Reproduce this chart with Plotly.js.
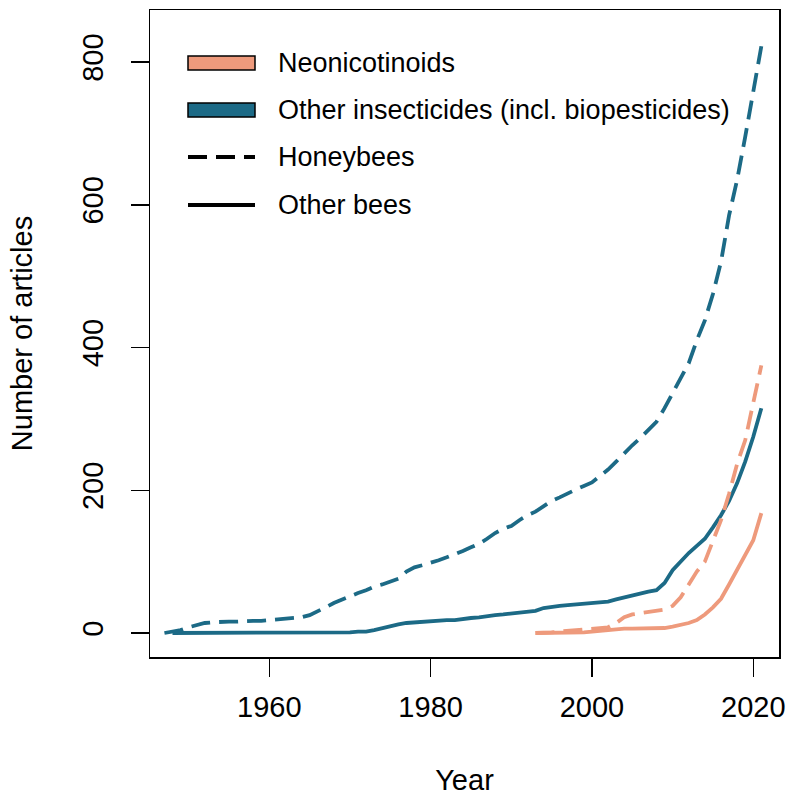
<!DOCTYPE html>
<html>
<head>
<meta charset="utf-8">
<script src="https://cdn.plot.ly/plotly-3.0.1.min.js"></script>
<style>html,body{margin:0;padding:0;background:#fff;}#chart{width:787px;height:796px;}</style>
</head>
<body>
<div id="chart"></div>
<script>
// ---- data ----
const yearsOtherHoney = [1947,1948,1949,1950,1951,1952,1953,1954,1955,1956,1957,1958,1959,1960,1961,1962,1963,1964,1965,1966,1967,1968,1969,1970,1971,1972,1973,1974,1975,1976,1977,1978,1979,1980,1981,1982,1983,1984,1985,1986,1987,1988,1989,1990,1991,1992,1993,1994,1995,1996,1997,1998,1999,2000,2001,2002,2003,2004,2005,2006,2007,2008,2009,2010,2011,2012,2013,2014,2015,2016,2017,2018,2019,2020,2021];
const otherHoney = [0,2,4,8,11,14,15,16,16,16,17,17,17,18,19,20,21,22,25,30,36,42,47,51,56,60,65,68,72,76,86,92,95,98,102,106,110,115,120,125,132,140,146,150,158,165,170,178,185,190,196,201,206,211,220,229,240,252,263,273,285,296,315,336,355,378,410,438,475,520,585,635,695,760,822];

const yearsOtherBees = [1948,1949,1950,1951,1952,1953,1954,1955,1956,1957,1958,1959,1960,1961,1962,1963,1964,1965,1966,1967,1968,1969,1970,1971,1972,1973,1974,1975,1976,1977,1978,1979,1980,1981,1982,1983,1984,1985,1986,1987,1988,1989,1990,1991,1992,1993,1994,1995,1996,1997,1998,1999,2000,2001,2002,2003,2004,2005,2006,2007,2008,2009,2010,2011,2012,2013,2014,2015,2016,2017,2018,2019,2020,2021];
const otherBees = [0,0,0,0,0,0,0,0,0,0,0,0,0,0,0,0,0,0,0,0,1,1,1,2,2,4,7,10,12,14,15,16,17,17,18,18,20,21,22,24,25,26,27,28,29,31,35,37,38,39,40,41,42,42,44,47,50,53,55,58,60,70,88,100,112,122,132,148,165,185,210,240,275,315];

const yearsNeonic = [1993,1994,1995,1996,1997,1998,1999,2000,2001,2002,2003,2004,2005,2006,2007,2008,2009,2010,2011,2012,2013,2014,2015,2016,2017,2018,2019,2020,2021];
const neonicHoney = [0,0,1,2,3,3,4,5,6,8,14,22,26,28,30,31,33,38,50,68,86,100,128,158,195,237,270,320,375];
const neonicBees  = [0,0,0,0,1,1,1,2,3,5,5,6,6,6,6,6,7,9,11,14,18,26,36,48,68,88,110,130,168];

const xTicks = [1960,1980,2000,2020];
const yTicks = [0,200,400,600,800];
const legendLabels = ["Neonicotinoids","Other insecticides (incl. biopesticides)","Honeybees","Other bees"];

// ---- styles ----
const salmon = "#EE9A7C";
const blue = "#1C6A86";
const dashPat = "19px,9px";
const lw = 3.8;
const font = "Liberation Sans, Arial, Helvetica, sans-serif";

const traces = [
  {x: yearsOtherHoney, y: otherHoney, mode: "lines", line: {color: blue, width: lw, dash: dashPat}, showlegend: false, hoverinfo: "skip"},
  {x: yearsOtherBees, y: otherBees, mode: "lines", line: {color: blue, width: lw}, showlegend: false, hoverinfo: "skip"},
  {x: yearsNeonic, y: neonicHoney, mode: "lines", line: {color: salmon, width: lw, dash: dashPat}, showlegend: false, hoverinfo: "skip"},
  {x: yearsNeonic, y: neonicBees, mode: "lines", line: {color: salmon, width: lw}, showlegend: false, hoverinfo: "skip"}
];

// legend geometry in pixel terms converted to paper coords
const L = 150, R = 779, T = 10, B = 657;
const px = v => (v - L) / (R - L);
const py = v => (B - v) / (B - T);

const shapes = [
  {type: "rect", xref: "paper", yref: "paper", x0: px(188), x1: px(255), y0: py(70), y1: py(56), fillcolor: salmon, line: {color: "#000", width: 1.5}},
  {type: "rect", xref: "paper", yref: "paper", x0: px(188), x1: px(255), y0: py(117), y1: py(103), fillcolor: blue, line: {color: "#000", width: 1.5}},
  {type: "line", xref: "paper", yref: "paper", x0: px(188), x1: px(255), y0: py(157), y1: py(157), line: {color: "#000", width: lw, dash: dashPat}},
  {type: "line", xref: "paper", yref: "paper", x0: px(188), x1: px(255), y0: py(205), y1: py(205), line: {color: "#000", width: lw}}
];
const rowsY = [63, 110, 157, 205];
const annotations = legendLabels.map((t, i) => ({
  text: t, xref: "paper", yref: "paper", x: px(276), y: py(rowsY[i]),
  xanchor: "left", yanchor: "middle", showarrow: false,
  font: {family: font, size: 27, color: "#000"}
}));

const layout = {
  width: 787, height: 796,
  margin: {l: L, r: 787 - R, t: T, b: 796 - B, pad: 0},
  paper_bgcolor: "#fff", plot_bgcolor: "#fff",
  font: {family: font, color: "#000"},
  xaxis: {
    range: [1945.21, 2023.19], tickvals: xTicks, ticktext: xTicks.map(String),
    ticks: "outside", ticklen: 18, tickwidth: 1.5, tickcolor: "#000",
    showline: true, mirror: true, linecolor: "#000", linewidth: 1.5,
    showgrid: false, zeroline: false,
    tickfont: {family: font, size: 29, color: "#000"},
    ticklabelstandoff: 6,
    title: {text: "Year", font: {family: font, size: 29, color: "#000"}, standoff: 49},
    automargin: false
  },
  yaxis: {
    range: [-33.63, 872.85], tickvals: yTicks, ticktext: yTicks.map(String),
    ticks: "outside", ticklen: 18, tickwidth: 1.5, tickcolor: "#000",
    showline: true, mirror: true, linecolor: "#000", linewidth: 1.5,
    showgrid: false, zeroline: false, tickangle: -90,
    tickfont: {family: font, size: 29, color: "#000"},
    ticklabelstandoff: 16,
    title: {text: "Number of articles", font: {family: font, size: 29, color: "#000"}, standoff: 36},
    automargin: false
  },
  shapes: shapes,
  annotations: annotations,
  showlegend: false
};

Plotly.newPlot("chart", traces, layout, {staticPlot: true, displayModeBar: false});
</script>
</body>
</html>
